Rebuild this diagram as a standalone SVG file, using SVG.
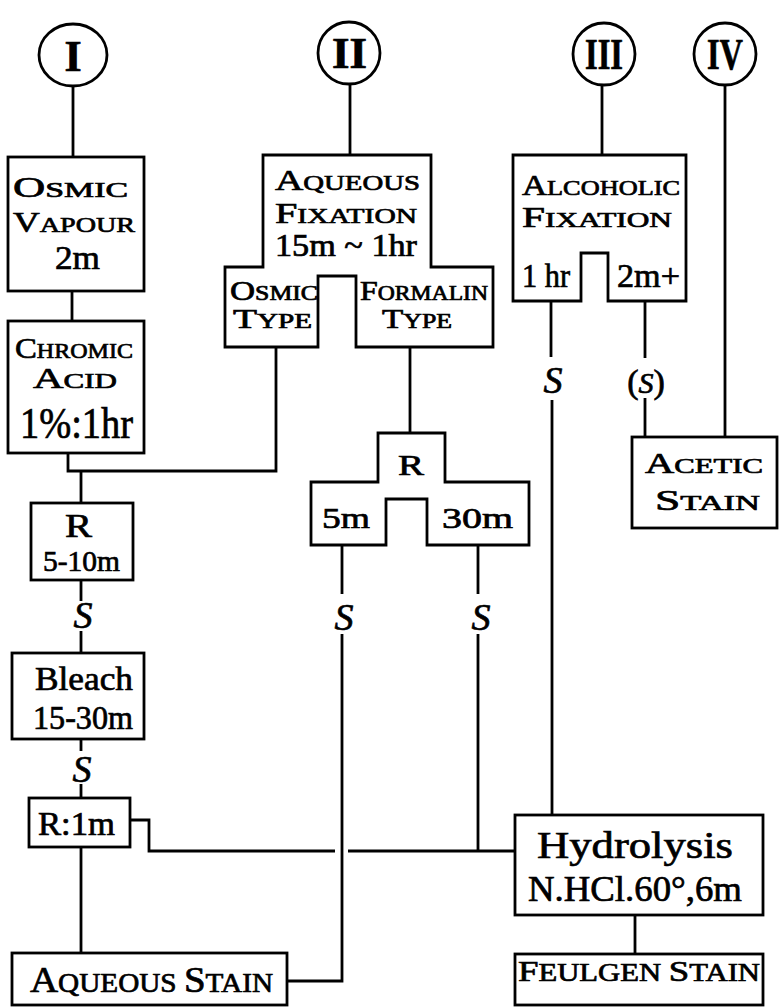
<svg xmlns="http://www.w3.org/2000/svg" width="779" height="1007" viewBox="0 0 779 1007">
<style>
.bg{fill:#fff}
.box{fill:#fff;stroke:#000;stroke-width:2.8;stroke-linejoin:miter}
.ln{fill:none;stroke:#000;stroke-width:2.8}
text{font-family:"Liberation Serif","DejaVu Serif",serif;fill:#000;stroke:#000;stroke-width:0.7}
.num{font-weight:bold;font-size:44px}
.s{font-style:italic;font-size:38px;text-anchor:middle}
</style>
<rect class="bg" x="0" y="0" width="779" height="1007"/>
<g id="connectors">
<path class="ln" d="M73,86 V157"/>
<path class="ln" d="M72,291 V321"/>
<path class="ln" d="M68,453 V471 H276 V347"/>
<path class="ln" d="M81,471 V503"/>
<path class="ln" d="M81,580 V601 M81,631 V653"/>
<path class="ln" d="M81,739 V751 M81,784 V798"/>
<path class="ln" d="M81,847 V953"/>
<path class="ln" d="M130,820 H149 V851 H335 M348,851 H515"/>
<path class="ln" d="M350,83 V155"/>
<path class="ln" d="M410,347 V433"/>
<path class="ln" d="M342,545 V594 M342,634 V981 H287"/>
<path class="ln" d="M478,545 V594 M478,634 V851"/>
<path class="ln" d="M602,85 V155"/>
<path class="ln" d="M551,301 V357 M552,400 V815"/>
<path class="ln" d="M645,301 V358 M645,398 V437"/>
<path class="ln" d="M725,86 V437"/>
<path class="ln" d="M635,915 V954"/>
<text class="s" x="83" y="628">S</text>
<text class="s" x="82" y="782">S</text>
<text class="s" x="344" y="630">S</text>
<text class="s" x="481" y="630">S</text>
<text class="s" x="553" y="393">S</text>
<text x="646" y="393" font-size="34" text-anchor="middle">(<tspan font-size="30" font-style="italic">S</tspan>)</text>
</g>
<g id="method-I">
<ellipse class="box" cx="73" cy="55" rx="34" ry="31"/>
<text class="num" x="73" y="71" text-anchor="middle">I</text>
</g>
<g id="method-II">
<circle class="box" cx="349" cy="53" r="31"/>
<text class="num" x="332" y="68" textLength="35" lengthAdjust="spacingAndGlyphs">II</text>
</g>
<g id="method-III">
<circle class="box" cx="604" cy="54" r="31"/>
<text class="num" x="585" y="69" textLength="38" lengthAdjust="spacingAndGlyphs">III</text>
</g>
<g id="method-IV">
<circle class="box" cx="725" cy="54" r="31"/>
<text class="num" x="707" y="69" textLength="36" lengthAdjust="spacingAndGlyphs">IV</text>
</g>
<g id="osmic-vapour">
<rect class="box" x="8" y="157" width="136" height="134"/>
<text x="13" y="197" textLength="115" lengthAdjust="spacingAndGlyphs"><tspan font-size="29">O</tspan><tspan font-size="22">SMIC</tspan></text>
<text x="13" y="232" textLength="122" lengthAdjust="spacingAndGlyphs"><tspan font-size="29">V</tspan><tspan font-size="22">APOUR</tspan></text>
<text x="55" y="269" font-size="33" textLength="45" lengthAdjust="spacingAndGlyphs">2m</text>
</g>
<g id="chromic-acid">
<rect class="box" x="8" y="321" width="136" height="132"/>
<text x="15" y="358" textLength="118" lengthAdjust="spacingAndGlyphs"><tspan font-size="30">C</tspan><tspan font-size="22">HROMIC</tspan></text>
<text x="33" y="388" textLength="84" lengthAdjust="spacingAndGlyphs"><tspan font-size="30">A</tspan><tspan font-size="22">CID</tspan></text>
<text x="20" y="438" font-size="44" textLength="113" lengthAdjust="spacingAndGlyphs">1%:1hr</text>
</g>
<g id="rinse-5-10">
<rect class="box" x="31" y="503" width="102" height="77"/>
<text x="65" y="537" font-size="34" textLength="27" lengthAdjust="spacingAndGlyphs">R</text>
<text x="43" y="571" font-size="29" textLength="77" lengthAdjust="spacingAndGlyphs">5-10m</text>
</g>
<g id="bleach">
<rect class="box" x="12" y="653" width="132" height="86"/>
<text x="35" y="690" font-size="33" textLength="98" lengthAdjust="spacingAndGlyphs">Bleach</text>
<text x="33" y="729" font-size="33" textLength="100" lengthAdjust="spacingAndGlyphs">15-30m</text>
</g>
<g id="rinse-1m">
<rect class="box" x="29" y="798" width="101" height="49"/>
<text x="38" y="835" font-size="33" textLength="77" lengthAdjust="spacingAndGlyphs">R:1m</text>
</g>
<g id="aqueous-stain">
<rect class="box" x="12" y="953" width="275" height="52"/>
<text x="30" y="992" textLength="243" lengthAdjust="spacingAndGlyphs"><tspan font-size="36">A</tspan><tspan font-size="27">QUEOUS </tspan><tspan font-size="36">S</tspan><tspan font-size="27">TAIN</tspan></text>
</g>
<g id="aqueous-fixation">
<path class="box" d="M263,155 H431 V267 H493 V347 H356 V276 H318 V347 H225 V267 H263 Z"/>
<text x="275" y="190" textLength="145" lengthAdjust="spacingAndGlyphs"><tspan font-size="30">A</tspan><tspan font-size="22">QUEOUS</tspan></text>
<text x="275" y="223" textLength="142" lengthAdjust="spacingAndGlyphs"><tspan font-size="30">F</tspan><tspan font-size="22">IXATION</tspan></text>
<text x="275" y="256" font-size="31" textLength="142" lengthAdjust="spacingAndGlyphs">15m ~ 1hr</text>
<text x="230" y="300" textLength="88" lengthAdjust="spacingAndGlyphs"><tspan font-size="27">O</tspan><tspan font-size="20">SMIC</tspan></text>
<text x="233" y="328" textLength="79" lengthAdjust="spacingAndGlyphs"><tspan font-size="27">T</tspan><tspan font-size="20">YPE</tspan></text>
<text x="360" y="300" textLength="128" lengthAdjust="spacingAndGlyphs"><tspan font-size="27">F</tspan><tspan font-size="20">ORMALIN</tspan></text>
<text x="382" y="328" textLength="70" lengthAdjust="spacingAndGlyphs"><tspan font-size="27">T</tspan><tspan font-size="20">YPE</tspan></text>
</g>
<g id="rinse-II">
<path class="box" d="M378,433 H445 V482 H529 V545 H427 V499 H386 V545 H311 V482 H378 Z"/>
<text x="398" y="475" font-size="30" textLength="26" lengthAdjust="spacingAndGlyphs">R</text>
<text x="322" y="528" font-size="30" textLength="48" lengthAdjust="spacingAndGlyphs">5m</text>
<text x="442" y="528" font-size="30" textLength="71" lengthAdjust="spacingAndGlyphs">30m</text>
</g>
<g id="alcoholic-fixation">
<path class="box" d="M513,155 H686 V301 H608 V253 H581 V301 H513 Z"/>
<text x="522" y="195" textLength="158" lengthAdjust="spacingAndGlyphs"><tspan font-size="29">A</tspan><tspan font-size="22">LCOHOLIC</tspan></text>
<text x="522" y="227" textLength="150" lengthAdjust="spacingAndGlyphs"><tspan font-size="29">F</tspan><tspan font-size="22">IXATION</tspan></text>
<text x="522" y="287" font-size="34" textLength="48" lengthAdjust="spacingAndGlyphs">1 hr</text>
<text x="617" y="287" font-size="34" textLength="63" lengthAdjust="spacingAndGlyphs">2m+</text>
</g>
<g id="acetic-stain">
<rect class="box" x="632" y="437" width="145" height="91"/>
<text x="645" y="473" textLength="118" lengthAdjust="spacingAndGlyphs"><tspan font-size="29">A</tspan><tspan font-size="22">CETIC</tspan></text>
<text x="655" y="510" textLength="105" lengthAdjust="spacingAndGlyphs"><tspan font-size="29">S</tspan><tspan font-size="22">TAIN</tspan></text>
</g>
<g id="hydrolysis">
<rect class="box" x="515" y="815" width="248" height="100"/>
<text x="537" y="858" font-size="38" textLength="196" lengthAdjust="spacingAndGlyphs">Hydrolysis</text>
<text x="528" y="901" font-size="36" textLength="214" lengthAdjust="spacingAndGlyphs">N.HCl.60°,6m</text>
</g>
<g id="feulgen-stain">
<rect class="box" x="515" y="954" width="248" height="51"/>
<text x="518" y="981" textLength="242" lengthAdjust="spacingAndGlyphs"><tspan font-size="30">F</tspan><tspan font-size="25">EULGEN </tspan><tspan font-size="30">S</tspan><tspan font-size="25">TAIN</tspan></text>
</g>
</svg>
